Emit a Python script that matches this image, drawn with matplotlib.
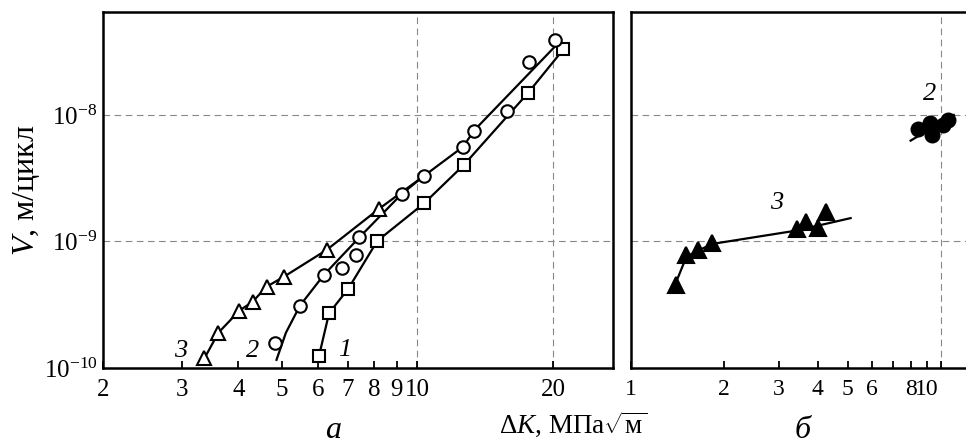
import numpy as np
import matplotlib
matplotlib.use("Agg")
import matplotlib.pyplot as plt
from matplotlib.ticker import FixedLocator, NullLocator

plt.rcParams['font.family'] = ['Liberation Serif', 'DejaVu Serif']
plt.rcParams['mathtext.fontset'] = 'custom'
plt.rcParams['mathtext.rm'] = 'Liberation Serif'
plt.rcParams['mathtext.it'] = 'Liberation Serif:italic'
plt.rcParams['mathtext.bf'] = 'Liberation Serif:bold'

# ---- panel a data ----
k1 = [6.04, 6.36, 7.02, 8.14, 10.34, 12.68, 17.57, 21.1]
v1 = [1.24e-10, 2.71e-10, 4.24e-10, 1.01e-9, 2.0e-9, 4.03e-9, 1.48e-8, 3.3e-8]

k2 = [4.82, 5.48, 6.19, 6.78, 7.30, 7.41, 9.22, 10.34, 12.64, 13.35, 15.85, 17.72, 20.2]
v2 = [1.57e-10, 3.11e-10, 5.43e-10, 6.14e-10, 7.82e-10, 1.09e-9, 2.37e-9, 3.30e-9,
      5.62e-9, 7.52e-9, 1.08e-8, 2.64e-8, 3.92e-8]

k3 = [3.36, 3.61, 4.02, 4.30, 4.62, 5.05, 6.28, 8.21]
v3 = [1.19e-10, 1.90e-10, 2.84e-10, 3.34e-10, 4.39e-10, 5.27e-10, 8.57e-10, 1.81e-9]

# fitted curves
c1_k = [6.04, 6.36, 7.02, 8.14, 10.34, 12.68, 17.57, 21.1]
c1_v = [1.24e-10, 2.71e-10, 4.24e-10, 1.01e-9, 2.0e-9, 4.03e-9, 1.48e-8, 3.3e-8]
c2_k = [4.86, 5.10, 5.48, 6.19, 7.45, 9.22, 10.34, 12.64, 13.35, 20.2]
c2_v = [1.16e-10, 1.9e-10, 3.11e-10, 5.43e-10, 1.09e-9, 2.37e-9, 3.30e-9, 5.62e-9, 7.52e-9, 3.47e-8]
c3_k = [3.36, 3.61, 4.02, 4.30, 4.62, 5.05, 6.28, 8.21, 10.34]
c3_v = [1.19e-10, 1.90e-10, 2.84e-10, 3.34e-10, 4.39e-10, 5.27e-10, 8.57e-10, 1.81e-9, 3.30e-9]

# ---- panel b data ----
kb3 = [1.40, 1.51, 1.64, 1.82, 3.42, 3.66, 4.02, 4.25]
vb3 = [4.53e-10, 7.82e-10, 8.57e-10, 9.79e-10, 1.25e-9, 1.43e-9, 1.27e-9, 1.72e-9]
cb3_k = [1.40, 1.51, 1.82, 3.42, 5.11]
cb3_v = [4.81e-10, 7.6e-10, 9.55e-10, 1.22e-9, 1.53e-9]

kb2 = [8.45, 9.21, 9.33, 10.17, 10.56]
vb2 = [7.71e-9, 8.6e-9, 6.95e-9, 8.34e-9, 9.13e-9]
cb2_k = [7.98, 11.0]
cb2_v = [6.27e-9, 1.0e-8]

xa_ticks = [2, 3, 4, 5, 6, 7, 8, 9, 10, 20]
xa_labels = ['2', '3', '4', '5', '6', '7', '8', '9', '10', '20']
xb_ticks = [1, 2, 3, 4, 5, 6, 7, 8, 9, 10]
xb_labels = ['1', '2', '3', '4', '5', '6', '', '8', '10', '']
y_ticks = [1e-10, 1e-9, 1e-8]
y_labels = [r'$10^{-10}$', r'$10^{-9}$', r'$10^{-8}$']

fig = plt.figure(figsize=(9.66, 4.47), dpi=100)
W, H = 966, 447
axa = fig.add_axes([103 / W, (H - 368) / H, (613 - 103) / W, (368 - 12) / H])
axb = fig.add_axes([631 / W, (H - 368) / H, 380 / W, (368 - 12) / H])

lw = 1.6
ms_style = dict(markersize=9, markeredgewidth=1.5, markeredgecolor='black', linestyle='none')
grid_kw = dict(color='#888888', linestyle=(0, (6, 4)), linewidth=0.8, zorder=0)

for ax in (axa, axb):
    ax.set_xscale('log')
    ax.set_yscale('log')
    ax.set_ylim(1e-10, 10 ** -7.186)
    for s in ax.spines.values():
        s.set_linewidth(1.8)
    ax.yaxis.set_major_locator(FixedLocator(y_ticks))
    ax.yaxis.set_minor_locator(NullLocator())
    ax.tick_params(axis='y', length=0, labelsize=18, pad=4)
    ax.tick_params(axis='x', which='major', direction='in', length=5, width=1.3,
                   labelsize=18, pad=8, top=False)
    ax.xaxis.set_minor_locator(NullLocator())
    for yg in [1e-9, 1e-8]:
        ax.axhline(yg, **grid_kw)

# panel a
axa.set_xlim(2, 27.2)
axa.xaxis.set_major_locator(FixedLocator(xa_ticks))
axa.set_xticklabels(xa_labels)
axa.set_yticklabels(y_labels)
for xg in [10, 20]:
    axa.axvline(xg, **grid_kw)

axa.plot(c1_k, c1_v, color='black', lw=lw, zorder=2)
axa.plot(c2_k, c2_v, color='black', lw=lw, zorder=2)
axa.plot(c3_k, c3_v, color='black', lw=lw, zorder=2)
axa.plot(k1, v1, marker='s', markerfacecolor='white', zorder=3, **ms_style)
axa.plot(k2, v2, marker='o', markerfacecolor='white', zorder=3, **ms_style)
axa.plot(k3, v3, marker='^', markerfacecolor='white', zorder=3,
         **{**ms_style, 'markersize': 10})

lab_kw = dict(fontsize=19, style='italic', ha='center', va='center')
axa.text(2.97, 1.36e-10, '3', **lab_kw)
axa.text(4.31, 1.36e-10, '2', **lab_kw)
axa.text(6.90, 1.40e-10, '1', **lab_kw)

# panel b
axb.set_xlim(1, 10 ** (380 / 310))
axb.xaxis.set_major_locator(FixedLocator(xb_ticks))
axb.set_xticklabels(xb_labels)
axb.tick_params(axis='x', labelsize=17)
axb.set_yticklabels([])
axb.spines['right'].set_visible(False)
axb.axvline(10, **grid_kw)

axb.plot(cb3_k, cb3_v, color='black', lw=lw, zorder=2)
axb.plot(cb2_k, cb2_v, color='black', lw=lw, zorder=2)
axb.plot(kb3, vb3, marker='^', markerfacecolor='black', zorder=3,
         **{**ms_style, 'markersize': 11})
axb.plot(kb2, vb2, marker='o', markerfacecolor='black', zorder=3,
         **{**ms_style, 'markersize': 10})
axb.text(2.94, 2.01e-9, '3', **lab_kw)
axb.text(9.21, 1.47e-8, '2', **lab_kw)

# labels
fig.text(26 / W, 1 - 190 / H, r'$\mathit{V}$, м/цикл', rotation=90,
         ha='center', va='center', fontsize=23)
fig.text(573 / W, 1 - 424 / H, r'Δ$\mathit{K}$, МПа$\sqrt{\mathrm{м}}$',
         ha='center', va='center', fontsize=19.5)
fig.text(333 / W, 1 - 431 / H, 'а', style='italic', ha='center', va='center', fontsize=23)
fig.text(803 / W, 1 - 431 / H, 'б', style='italic', ha='center', va='center', fontsize=23)

fig.savefig('out.png', dpi=100)
